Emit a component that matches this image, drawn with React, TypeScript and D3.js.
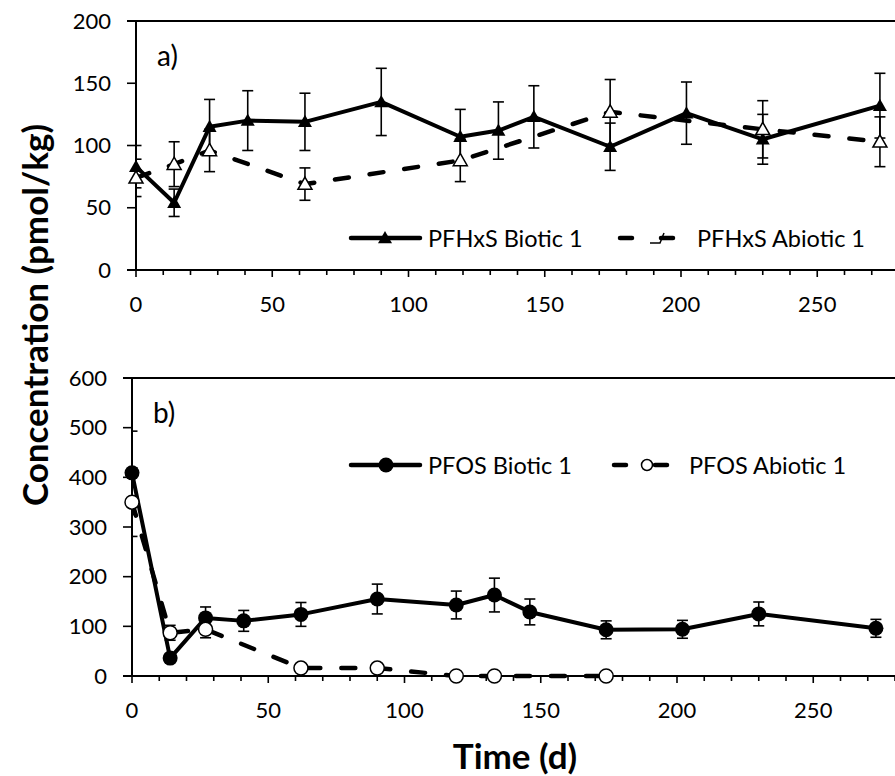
import React from "react";
import * as d3 from "d3";

// ---------- data ----------
const xTicks = [0, 50, 100, 150, 200, 250];
const xMinorTicks = d3.range(0, 281, 10);
const yTicksA = [0, 50, 100, 150, 200];
const yTicksB = [0, 100, 200, 300, 400, 500, 600];

const pfhxsBioticT = [0, 14, 27, 41, 62, 90, 119, 133, 146, 174, 202, 230, 273];
const pfhxsBioticV = [83, 54, 115, 120, 119, 135, 107, 112, 123, 99, 126, 105, 132];
const pfhxsBioticE = [17, 11, 22, 24, 23, 27, 22, 23, 25, 19, 25, 20, 26];

const pfhxsAbioticT = [0, 14, 27, 62, 119, 174, 230, 273];
const pfhxsAbioticV = [74, 85, 96, 69, 88, 127, 113, 103];
const pfhxsAbioticE = [15, 18, 17, 13, 17, 26, 23, 20];

const pfosBioticT = [0, 14, 27, 41, 62, 90, 119, 133, 146, 174, 202, 230, 273];
const pfosBioticV = [409, 36, 117, 111, 124, 155, 143, 163, 129, 93, 94, 125, 96];
const pfosBioticE = [84, 8, 22, 21, 24, 30, 28, 34, 26, 18, 18, 24, 18];

const pfosAbioticT = [0, 14, 27, 62, 90, 119, 133, 174];
const pfosAbioticV = [350, 87, 94, 16, 16, 0, 0, 0];
const pfosAbioticE = [69, 15, 17, 3, 3, 1, 1, 1];

const FONT = "Lato, 'Open Sans', sans-serif";
const TICK_FS = 22;
const LEG_FS = 23.5;

type Pt = { t: number; v: number; e: number };
const zip = (t: number[], v: number[], e: number[]): Pt[] =>
  t.map((tt, i) => ({ t: tt, v: v[i], e: e[i] }));

function ErrorBars({ pts, x, y, clipId }: any) {
  return (
    <g clipPath={`url(#${clipId})`} stroke="#000" strokeWidth={1.6}>
      {pts.map((p: Pt, i: number) => {
        const cx = x(p.t);
        const y1 = y(p.v + p.e);
        const y2 = y(p.v - p.e);
        return (
          <g key={i}>
            <line x1={cx} x2={cx} y1={y1} y2={y2} />
            <line x1={cx - 5.5} x2={cx + 5.5} y1={y1} y2={y1} />
            <line x1={cx - 5.5} x2={cx + 5.5} y1={y2} y2={y2} />
          </g>
        );
      })}
    </g>
  );
}

const triPath = (cx: number, cy: number, s = 7) =>
  `M${cx},${cy - s}L${cx + s},${cy + s * 0.75}L${cx - s},${cy + s * 0.75}Z`;

function Panel({
  top, bottom, left, yMax, yTicks, bio, abio, marker, label, legend, clipId,
}: any) {
  const x = d3.scaleLinear().domain([0, 280]).range([left, left + 2.725 * 280]);
  const y = d3.scaleLinear().domain([0, yMax]).range([bottom, top]);
  const line = d3.line<Pt>().x((d) => x(d.t)).y((d) => y(d.v));
  const right = x(280);
  return (
    <g>
      <defs>
        <clipPath id={clipId}>
          <rect x={left} y={top - 20} width={right - left + 10} height={bottom - top + 40} />
        </clipPath>
      </defs>
      {/* top border */}
      <line x1={left - 9} x2={right + 5} y1={top} y2={top} stroke="#000" strokeWidth={2} />
      {/* y axis */}
      <line x1={left} x2={left} y1={top} y2={bottom} stroke="#000" strokeWidth={2} />
      {yTicks.map((v: number) => (
        <g key={v}>
          <line x1={left - 9} x2={left} y1={y(v)} y2={y(v)} stroke="#000" strokeWidth={1.6} />
          <text x={left - 25} y={y(v) + 7.5} textAnchor="end" fontSize={TICK_FS} fontFamily={FONT}>
            {v}
          </text>
        </g>
      ))}
      {/* x axis */}
      <line x1={left - 9} x2={right + 5} y1={bottom} y2={bottom} stroke="#000" strokeWidth={2} />
      {xMinorTicks.map((t) => (
        <line key={t} x1={x(t)} x2={x(t)} y1={bottom} y2={bottom + (t % 50 === 0 ? 7 : 5)} stroke="#000" strokeWidth={1.6} />
      ))}
      {xTicks.map((t) => (
        <text key={t} x={x(t)} y={bottom + 42} textAnchor="middle" fontSize={TICK_FS} fontFamily={FONT}>
          {t}
        </text>
      ))}
      <text x={left + 21} y={top + 45} fontSize={28} fontFamily={FONT}>{label}</text>

      {/* biotic */}
      <ErrorBars pts={bio} x={x} y={y} clipId={clipId} />
      <path d={line(bio) || ""} fill="none" stroke="#000" strokeWidth={4} strokeLinejoin="round" />
      {bio.map((p: Pt, i: number) =>
        marker === "tri" ? (
          <path key={i} d={triPath(x(p.t), y(p.v))} fill="#000" />
        ) : (
          <circle key={i} cx={x(p.t)} cy={y(p.v)} r={7.5} fill="#000" />
        )
      )}
      {/* abiotic */}
      <ErrorBars pts={abio} x={x} y={y} clipId={clipId} />
      <path d={line(abio) || ""} fill="none" stroke="#000" strokeWidth={4.5} strokeDasharray="14 21" strokeLinecap="round" />
      {abio.map((p: Pt, i: number) =>
        marker === "tri" ? (
          <path key={i} d={triPath(x(p.t), y(p.v))} fill="#fff" stroke="#000" strokeWidth={1.5} />
        ) : (
          <circle key={i} cx={x(p.t)} cy={y(p.v)} r={7} fill="#fff" stroke="#000" strokeWidth={1.5} />
        )
      )}

      {/* legend */}
      <g fontFamily={FONT} fontSize={LEG_FS}>
        <line x1={351} x2={420} y1={legend.y} y2={legend.y} stroke="#000" strokeWidth={4.5} strokeLinecap="round" />
        {marker === "tri" ? (
          <path d={triPath(385, legend.y)} fill="#000" />
        ) : (
          <circle cx={386} cy={legend.y} r={7.5} fill="#000" />
        )}
        <text x={428} y={legend.y + 8.5}>{legend.bio}</text>
        <line x1={legend.dx0} x2={legend.dx0 + 12} y1={legend.y} y2={legend.y} stroke="#000" strokeWidth={4.5} strokeLinecap="round" />
        <line x1={legend.dx1 - 12} x2={legend.dx1} y1={legend.y} y2={legend.y} stroke="#000" strokeWidth={4.5} strokeLinecap="round" />
        {marker === "tri" ? (
          <path d={`M${legend.mx - 10},${legend.y + 5}H${legend.mx}L${legend.mx + 4},${legend.y - 5}`} fill="none" stroke="#000" strokeWidth={1.5} />
        ) : (
          <circle cx={legend.mx} cy={legend.y} r={5.5} fill="#fff" stroke="#000" strokeWidth={1.5} />
        )}
        <text x={legend.tx} y={legend.y + 8.5}>{legend.abio}</text>
      </g>
    </g>
  );
}

export default function App() {
  const a1 = zip(pfhxsBioticT, pfhxsBioticV, pfhxsBioticE);
  const a2 = zip(pfhxsAbioticT, pfhxsAbioticV, pfhxsAbioticE);
  const b1 = zip(pfosBioticT, pfosBioticV, pfosBioticE);
  const b2 = zip(pfosAbioticT, pfosAbioticV, pfosAbioticE);
  return (
    <svg width={895} height={776} style={{ position: "absolute", left: 0, top: 0, background: "#fff" }}>
      <rect width={895} height={776} fill="#fff" />
      <Panel
        top={21} bottom={270} left={136} yMax={200} yTicks={yTicksA}
        bio={a1} abio={a2} marker="tri" label="a)" clipId="clipA"
        legend={{ y: 238, bio: "PFHxS Biotic 1", abio: "PFHxS Abiotic 1", dx0: 620, dx1: 673, mx: 660, tx: 697 }}
      />
      <Panel
        top={378} bottom={676} left={132} yMax={600} yTicks={yTicksB}
        bio={b1} abio={b2} marker="circle" label="b)" clipId="clipB"
        legend={{ y: 465, bio: "PFOS Biotic 1", abio: "PFOS Abiotic 1", dx0: 614, dx1: 667, mx: 647, tx: 689 }}
      />
      <text
        transform="translate(48,315) rotate(-90)"
        textAnchor="middle" fontSize={35} fontWeight="bold" fontFamily={FONT}
      >
        Concentration (pmol/kg)
      </text>
      <text x={515} y={769} textAnchor="middle" fontSize={35} fontWeight="bold" fontFamily={FONT}>
        Time (d)
      </text>
    </svg>
  );
}
